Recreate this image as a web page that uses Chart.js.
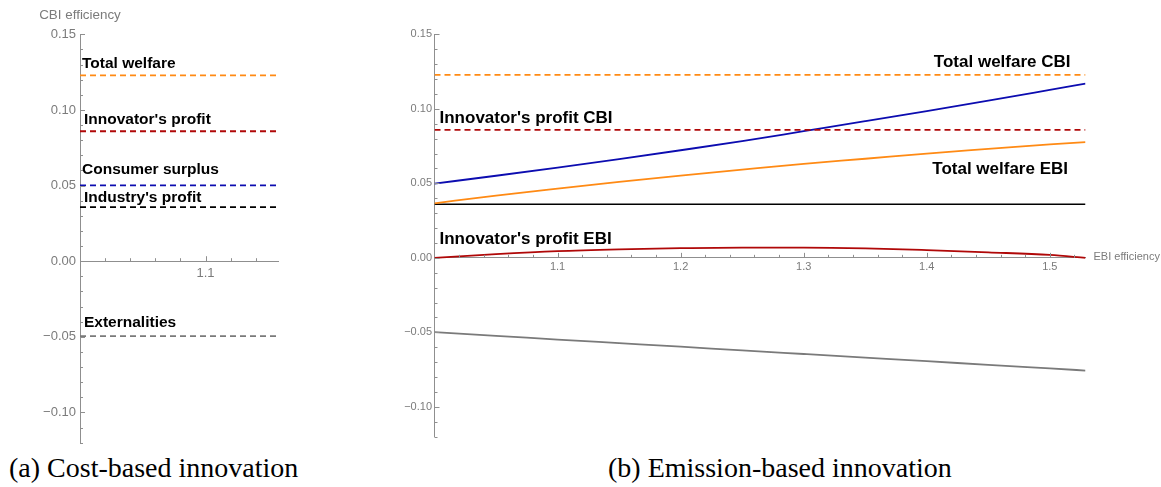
<!DOCTYPE html>
<html>
<head>
<meta charset="utf-8">
<script src="https://cdn.jsdelivr.net/npm/chart.js@4/dist/chart.umd.min.js"></script>
<style>
  html, body { margin: 0; padding: 0; background: #fff; }
  body { width: 1161px; height: 487px; position: relative; overflow: hidden; }
  .panel { position: absolute; top: 0; }
  .caption {
    position: absolute;
    font-family: "Liberation Serif", "DejaVu Serif", serif;
    font-size: 28px;
    line-height: 28px;
    color: #000;
    white-space: nowrap;
  }
</style>
</head>
<body>
<div class="panel" style="left:0px;"><canvas id="cbiChart" width="330" height="450"></canvas></div>
<div class="panel" style="left:370px;"><canvas id="ebiChart" width="791" height="450"></canvas></div>
<div class="caption" style="left:9px; top:454px;">(a) Cost-based innovation</div>
<div class="caption" style="left:608px; top:454px;">(b) Emission-based innovation</div>

<script>
// ---- Cost-based innovation (flat in efficiency) ----
const cbiSeries = ['Total welfare', "Innovator's profit", 'Consumer surplus', "Industry's profit", 'Externalities'];
const cbiValues = [0.1228, 0.0859, 0.0501, 0.0358, -0.0495];
const cbiRange = [1.0, 1.158];
const cbiXTicks = [1.1];

// ---- Emission-based innovation ----
const ebiEfficiency      = [1.00, 1.05, 1.10, 1.15, 1.20, 1.25, 1.30, 1.35, 1.40, 1.45, 1.50, 1.529];
const ebiConsumerSurplus = [0.0498, 0.0551, 0.0606, 0.0663, 0.0722, 0.0783, 0.0850, 0.0917, 0.0985, 0.1055, 0.1127, 0.1169];
const ebiTotalWelfare    = [0.0366, 0.0418, 0.0465, 0.0510, 0.0552, 0.0592, 0.0631, 0.0665, 0.0700, 0.0731, 0.0762, 0.0777];
const ebiInnovatorProfit = [0.0000, 0.0025, 0.0045, 0.0057, 0.0065, 0.0069, 0.0069, 0.0064, 0.0052, 0.0037, 0.0020, 0.0000];
const ebiExternalities   = [-0.0499, -0.0523, -0.0548, -0.0572, -0.0596, -0.0621, -0.0645, -0.0669, -0.0693, -0.0718, -0.0742, -0.0756];
const ebiIndustryProfit  = 0.0360;
const ebiNotes = ['Total welfare CBI', "Innovator's profit CBI", 'Total welfare EBI', "Innovator's profit EBI"];
const ebiXTicks = [1.1, 1.2, 1.3, 1.4, 1.5];

const yRange = [-0.12, 0.15];
const yTicks = [-0.10, -0.05, 0.00, 0.05, 0.10, 0.15];

// ---- styling ----
const SANS = '"Liberation Sans", Arial, sans-serif';
const AXIS = '#8f8f8f';
const TICK_TEXT = '#7b7b7b';
const ORANGE = '#ff8a14';
const DARK_RED = '#b00808';
const DARK_BLUE = '#0c0cb0';
const BLACK = '#000000';
const GRAY = '#7a7a7a';
const DASH = [6, 4];

Chart.defaults.font.family = SANS;
Chart.defaults.animation = false;

const fmtY = v => {
  if (Math.abs(v) < 1e-9) return '0.00';
  return v < 0 ? '\u2212' + Math.abs(v).toFixed(2) : v.toFixed(2);
};

const pts = (xs, ys) => xs.map((x, i) => ({ x, y: ys[i] }));
const flat = (range, v) => [{ x: range[0], y: v }, { x: range[1], y: v }];

// inward tick marks: minor every 0.01 on y, every 0.02 on x; major at labelled steps
const innerTicks = {
  id: 'innerTicks',
  afterDatasetsDraw(chart) {
    const { ctx, scales: { x, y } } = chart;
    const y0 = y.getPixelForValue(0);
    ctx.save();
    ctx.strokeStyle = AXIS;
    ctx.lineWidth = 1;
    ctx.beginPath();
    for (let k = Math.ceil(y.min * 100 - 1e-6); k <= Math.floor(y.max * 100 + 1e-6); k++) {
      const py = Math.round(y.getPixelForValue(k / 100)) + 0.5;
      const len = k % 5 === 0 ? 5 : 3;
      ctx.moveTo(x.left, py);
      ctx.lineTo(x.left + len, py);
    }
    for (let k = Math.ceil(x.min * 50 - 1e-6) + 1; k <= Math.floor(x.max * 50 + 1e-6); k++) {
      const px = Math.round(x.getPixelForValue(k / 50)) + 0.5;
      const len = k % 5 === 0 ? 5 : 3;
      ctx.moveTo(px, y0);
      ctx.lineTo(px, y0 - len);
    }
    ctx.stroke();
    ctx.restore();
  }
};

// curve labels and axis names
const curveNotes = {
  id: 'curveNotes',
  afterDatasetsDraw(chart, args, opts) {
    const { ctx, scales: { x, y }, chartArea } = chart;
    ctx.save();
    ctx.fillStyle = '#000';
    ctx.font = 'bold ' + opts.size + 'px ' + SANS;
    ctx.textBaseline = 'alphabetic';
    opts.items.forEach(n => {
      ctx.textAlign = n.align;
      ctx.fillText(n.text, x.getPixelForValue(n.x) + n.dx, y.getPixelForValue(n.y) + n.dy);
    });
    ctx.fillStyle = TICK_TEXT;
    if (opts.yTitle) {
      ctx.font = opts.yTitle.size + 'px ' + SANS;
      ctx.textAlign = 'center';
      ctx.fillText(opts.yTitle.text, chartArea.left, chartArea.top - 15);
    }
    if (opts.xTitle) {
      ctx.font = opts.xTitle.size + 'px ' + SANS;
      ctx.textAlign = 'left';
      ctx.textBaseline = 'middle';
      ctx.fillText(opts.xTitle.text, chartArea.right + 8, y.getPixelForValue(0) - 1);
    }
    ctx.restore();
  }
};

function buildChart(id, cfg) {
  return new Chart(document.getElementById(id), {
    type: 'line',
    data: { datasets: cfg.datasets },
    options: {
      responsive: false,
      devicePixelRatio: 1,
      layout: { padding: cfg.padding },
      elements: { point: { radius: 0 }, line: { borderWidth: 1.8, fill: false } },
      plugins: {
        legend: { display: false },
        tooltip: { enabled: false },
        curveNotes: cfg.notes
      },
      scales: {
        x: {
          type: 'linear',
          min: cfg.xRange[0],
          max: cfg.xRange[1],
          position: { y: 0 },
          afterFit(s) { s.height = 0; s.paddingLeft = 0; s.paddingRight = 0; },
          afterBuildTicks(s) { s.ticks = cfg.xTicks.map(v => ({ value: v })); },
          grid: { display: false, drawTicks: false },
          border: { display: true, color: AXIS, width: 1 },
          ticks: {
            autoSkip: false, maxRotation: 0, color: TICK_TEXT,
            padding: cfg.xPad, font: { size: cfg.tickSize },
            callback: v => v.toFixed(1)
          }
        },
        y: {
          type: 'linear',
          min: yRange[0],
          max: yRange[1],
          position: 'left',
          afterFit(s) { s.width = cfg.yWidth; s.paddingTop = 0; s.paddingBottom = 0; },
          afterBuildTicks(s) { s.ticks = yTicks.map(v => ({ value: v })); },
          grid: { display: false, drawTicks: false },
          border: { display: true, color: AXIS, width: 1 },
          ticks: {
            autoSkip: false, color: TICK_TEXT,
            padding: cfg.yPad, font: { size: cfg.tickSize },
            callback: fmtY
          }
        }
      }
    },
    plugins: [innerTicks, curveNotes]
  });
}

// ---- panel (a) ----
const cbiColors = [ORANGE, DARK_RED, DARK_BLUE, BLACK, GRAY];
const cbiPlacement = [
  { dx: 2, dy: -7 }, { dx: 4, dy: -7.5 }, { dx: 2, dy: -11 }, { dx: 4, dy: -5 }, { dx: 4, dy: -9 }
];
buildChart('cbiChart', {
  xRange: cbiRange,
  xTicks: cbiXTicks,
  padding: { left: 0, right: 51.7, top: 34.3, bottom: 7.3 },
  yWidth: 80,
  tickSize: 13,
  xPad: 4.5,
  yPad: 4,
  datasets: cbiValues.map((v, i) => ({
    label: cbiSeries[i],
    data: flat(cbiRange, v),
    borderColor: cbiColors[i],
    borderDash: DASH
  })),
  notes: {
    size: 15.5,
    items: cbiSeries.map((t, i) => ({
      text: t, x: cbiRange[0], y: cbiValues[i], align: 'left',
      dx: cbiPlacement[i].dx, dy: cbiPlacement[i].dy
    })),
    yTitle: { text: 'CBI efficiency', size: 13.4 }
  }
});

// ---- panel (b) ----
const ebiRange = [ebiEfficiency[0], ebiEfficiency[ebiEfficiency.length - 1]];
buildChart('ebiChart', {
  xRange: ebiRange,
  xTicks: ebiXTicks,
  padding: { left: 0, right: 75.5, top: 34.3, bottom: 13.3 },
  yWidth: 64.5,
  tickSize: 11,
  xPad: 2.7,
  yPad: 2.5,
  datasets: [
    { label: 'Total welfare CBI', data: flat(ebiRange, cbiValues[0]), borderColor: ORANGE, borderDash: DASH },
    { label: "Innovator's profit CBI", data: flat(ebiRange, cbiValues[1]), borderColor: DARK_RED, borderDash: DASH },
    { label: 'Consumer surplus EBI', data: pts(ebiEfficiency, ebiConsumerSurplus), borderColor: DARK_BLUE, cubicInterpolationMode: 'monotone' },
    { label: 'Total welfare EBI', data: pts(ebiEfficiency, ebiTotalWelfare), borderColor: ORANGE, cubicInterpolationMode: 'monotone' },
    { label: "Industry's profit EBI", data: flat(ebiRange, ebiIndustryProfit), borderColor: BLACK, borderWidth: 1.5 },
    { label: "Innovator's profit EBI", data: pts(ebiEfficiency, ebiInnovatorProfit), borderColor: DARK_RED, cubicInterpolationMode: 'monotone' },
    { label: 'Externalities EBI', data: pts(ebiEfficiency, ebiExternalities), borderColor: GRAY, cubicInterpolationMode: 'monotone' }
  ],
  notes: {
    size: 17,
    items: [
      { text: ebiNotes[0], x: ebiRange[1], y: cbiValues[0], align: 'right', dx: -15, dy: -8.3 },
      { text: ebiNotes[1], x: ebiRange[0], y: cbiValues[1], align: 'left', dx: 5, dy: -6.4 },
      { text: ebiNotes[2], x: ebiRange[1], y: ebiTotalWelfare[ebiTotalWelfare.length - 1], align: 'right', dx: -17.5, dy: 32 },
      { text: ebiNotes[3], x: ebiRange[0], y: ebiInnovatorProfit[0], align: 'left', dx: 5, dy: -13.7 }
    ],
    xTitle: { text: 'EBI efficiency', size: 11 }
  }
});
</script>
</body>
</html>
